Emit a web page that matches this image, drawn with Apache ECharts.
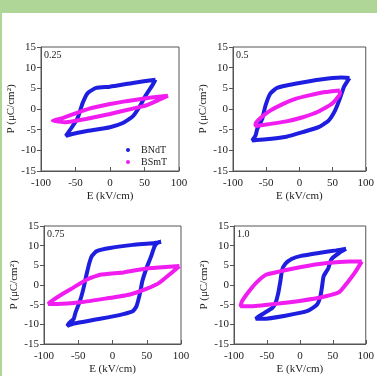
<!DOCTYPE html>
<html>
<head>
<meta charset="utf-8">
<script src="https://cdn.jsdelivr.net/npm/echarts@6/dist/echarts.min.js"></script>
<style>
  html, body { margin: 0; padding: 0; background: #afd696; }
  #panel { position: absolute; left: 2px; top: 13px; width: 375px; height: 363px; background: #ffffff; }
  #chart { position: absolute; left: 0; top: 0; width: 377px; height: 376px; }
</style>
</head>
<body>
<div id="panel"></div>
<div id="chart"></div>
<script>
// P-E loops, [E (kV/cm), P (uC/cm2)]
const panelLabels = ['0.25', '0.5', '0.75', '1.0'];
const xTicks = [-100, -50, 0, 50, 100];
const yTicks = [-15, -10, -5, 0, 5, 10, 15];

const bndt025 = [[66, 7.1], [33, 6.3], [0, 5.4], [-20, 5.1], [-32, 3.9], [-39.5, 1.5], [-47, -2.2], [-56, -4.6], [-64, -6.5],
  [-56, -6.1], [-35, -5.4], [0, -4.4], [18.6, -3.4], [33, -1.8], [43, 0.6], [52.5, 3.5], [62, 5.9], [66, 7.1]];
const bsmt025 = [[84, 3.2], [57, 2.7], [23.5, 1.9], [0, 1.2], [-30, 0.1], [-49, -1.0], [-68.5, -2.2], [-83, -2.8],
  [-64, -3.2], [-35, -2.4], [0, -1.2], [33, 0.1], [52.5, 0.9], [72, 2.3], [84, 3.2]];

const bndt050 = [[75.6, 7.5], [63, 7.6], [29, 7.1], [0, 6.3], [-19.5, 5.7], [-34, 5.1], [-44, 3.7], [-51, 0.85], [-56, -2.4],
  [-63.4, -4.8], [-66, -6.4], [-71, -7.6], [-53.7, -7.4], [-19.5, -6.7], [5, -5.6], [29, -4.4], [44, -2.8], [53.7, -0.4],
  [61, 2.5], [67, 5.3], [73, 6.9], [75.6, 7.5]];
const bsmt050 = [[61, 4.5], [39, 4.1], [14.6, 3.3], [-4.9, 2.5], [-24.4, 1.25], [-44, -0.4], [-58.5, -2.2], [-66, -3.6],
  [-66, -4.1], [-44, -3.6], [-19.5, -3.0], [5, -2.0], [29, -0.6], [49, 1.25], [61, 3.7], [61, 4.5]];

const bndt075 = [[71, 11], [59, 10.6], [30, 10.2], [-3.6, 9.4], [-23, 8.6], [-30, 7.4], [-33.5, 5.8], [-38, 2.6], [-42, -0.6],
  [-47, -3.8], [-54, -7], [-56.6, -8.6], [-64, -9.8], [-66, -10.4], [-56.6, -9.8], [-18, -8.6], [15.7, -7.4], [30, -6.6],
  [35, -5.4], [40, -2.2], [43.6, 1], [49.4, 4.2], [56.6, 7.4], [61.4, 9.8], [66, 10.8], [71, 11]];
const bsmt075 = [[97.6, 4.8], [78, 4.6], [49.4, 4.2], [15.7, 3.2], [-18, 2.6], [-37.3, 1.4], [-56.6, -0.6], [-76, -2.6],
  [-90, -4.2], [-93.7, -4.8], [-80.7, -4.8], [-47, -4.4], [-8.4, -3.4], [25.3, -2.4], [49.4, -1], [68.7, 0.6], [85.5, 3],
  [97.6, 4.8]];

const bndt100 = [[70, 9.2], [55, 8.8], [31, 8.2], [2, 7.4], [-12.6, 6.6], [-22, 5.4], [-27, 3.8], [-29.6, 1], [-33, -2.2],
  [-37, -4.6], [-41.7, -5.8], [-49, -6.6], [-61, -7.8], [-67, -8.6], [-56, -8.6], [-22, -7.8], [11.7, -6.6], [26, -5],
  [31, -3], [33.5, -0.6], [36, 2.2], [43, 4.2], [48, 6.6], [60, 8.2], [70, 9.2]];
const bsmt100 = [[94, 6], [75, 6], [41, 5.6], [2, 4.6], [-32, 3.4], [-51.5, 2.6], [-66, 0.6], [-78, -1.8], [-88, -4.2],
  [-90, -5.4], [-76, -5.4], [-37, -4.8], [2, -4], [36, -3], [60, -1.8], [72, 0.6], [84.5, 3.4], [94, 6]];

const bndtLoops = [bndt025, bndt050, bndt075, bndt100];
const bsmtLoops = [bsmt025, bsmt050, bsmt075, bsmt100];

const serif = '"Liberation Serif", "DejaVu Serif", serif';
const grids = [
  { left: 41, top: 47, width: 138, height: 124 },
  { left: 233, top: 47, width: 137, height: 124 },
  { left: 44, top: 226, width: 137, height: 124 },
  { left: 234, top: 226, width: 138, height: 124 }
];

const axisLine = { show: true, onZero: false, lineStyle: { color: '#555', width: 1 } };
const labelStyle = { fontFamily: serif, fontSize: 11, color: '#222' };

const chart = echarts.init(document.getElementById('chart'));
chart.setOption({
  animation: false,
  textStyle: { fontFamily: serif },
  grid: grids.map(g => Object.assign({ show: true, borderColor: '#555', borderWidth: 1, backgroundColor: 'transparent' }, g)),
  title: panelLabels.map((t, i) => ({
    text: t,
    left: grids[i].left + 3,
    top: grids[i].top + 3,
    padding: 0,
    textStyle: { fontFamily: serif, fontSize: 10, fontWeight: 'normal', color: '#222' }
  })),
  legend: {
    data: ['BNdT', 'BSmT'],
    orient: 'vertical',
    left: 126,
    top: 145,
    padding: 0,
    itemGap: 2,
    itemWidth: 16,
    itemHeight: 4,
    icon: 'circle',
    textStyle: { fontFamily: serif, fontSize: 10, color: '#222' }
  },
  xAxis: grids.map((g, i) => ({
    type: 'value',
    gridIndex: i,
    min: xTicks[0],
    max: xTicks[xTicks.length - 1],
    interval: 50,
    name: 'E (kV/cm)',
    nameLocation: 'middle',
    nameGap: 20,
    nameTextStyle: labelStyle,
    axisLine: axisLine,
    axisTick: { show: true, inside: true, length: 4, lineStyle: { color: '#555' } },
    axisLabel: Object.assign({ margin: 7 }, labelStyle),
    splitLine: { show: false }
  })),
  yAxis: grids.map((g, i) => ({
    type: 'value',
    gridIndex: i,
    min: yTicks[0],
    max: yTicks[yTicks.length - 1],
    interval: 5,
    name: 'P (μC/cm²)',
    nameLocation: 'middle',
    nameGap: 24,
    nameTextStyle: labelStyle,
    axisLine: axisLine,
    axisTick: { show: true, inside: false, length: 4, lineStyle: { color: '#555' } },
    axisLabel: Object.assign({ margin: 5 }, labelStyle),
    splitLine: { show: false }
  })),
  series: [].concat(
    bndtLoops.map((d, i) => ({
      name: 'BNdT', type: 'line', xAxisIndex: i, yAxisIndex: i, data: d,
      showSymbol: false, smooth: 0.15, color: '#1e1ee0',
      lineStyle: { width: 4, color: '#1e1ee0' }
    })),
    bsmtLoops.map((d, i) => ({
      name: 'BSmT', type: 'line', xAxisIndex: i, yAxisIndex: i, data: d,
      showSymbol: false, smooth: 0.15, color: '#f01cf0',
      lineStyle: { width: 4, color: '#f01cf0' }
    }))
  )
});
</script>
</body>
</html>
